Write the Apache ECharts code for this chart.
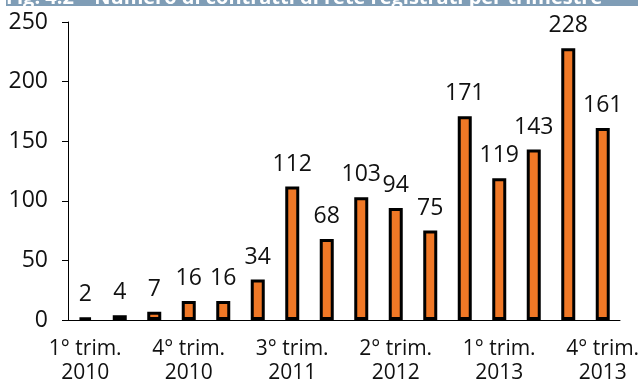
<!DOCTYPE html>
<html>
<head>
<meta charset="utf-8">
<script src="https://cdn.jsdelivr.net/npm/echarts@6/dist/echarts.min.js"></script>
<style>
  html, body { margin: 0; padding: 0; background: #fff; }
  #chart { width: 638px; height: 380px; }
</style>
</head>
<body>
<div id="chart"></div>
<script>
// trimestri 2010-2013
var categorie = [
	'1° trim.\n2010', '2° trim.\n2010', '3° trim.\n2010', '4° trim.\n2010',
	'1° trim.\n2011', '2° trim.\n2011', '3° trim.\n2011', '4° trim.\n2011',
	'1° trim.\n2012', '2° trim.\n2012', '3° trim.\n2012', '4° trim.\n2012',
	'1° trim.\n2013', '2° trim.\n2013', '3° trim.\n2013', '4° trim.\n2013'
];
// numero di contratti di rete
var contratti = [2, 4, 7, 16, 16, 34, 112, 68, 103, 94, 75, 171, 119, 143, 228, 161];
var titolo = 'Fig. 4.2 – Numero di contratti di rete registrati per trimestre';

var chart = echarts.init(document.getElementById('chart'));
var font = '"Open Sans", "Noto Sans", sans-serif';

option = {
	animation: false,
	textStyle: { fontFamily: font },
	graphic: [
		{ type: 'rect', left: 6, top: 0, shape: { width: 632, height: 6 }, style: { fill: '#7f9db6' } },
		{
			type: 'text', x: 6, y: -12,
			style: { text: titolo, fill: '#fff', font: 'bold 20px ' + font, textVerticalAlign: 'top' }
		}
	],
	grid: { left: 68, right: 18, top: 22, bottom: 60, containLabel: false, outerBoundsMode: 'none' },
	xAxis: {
		type: 'category',
		data: categorie,
		axisLine: { lineStyle: { color: '#000', width: 1 } },
		axisTick: { interval: 0, length: 6, lineStyle: { color: '#000' } },
		axisLabel: { interval: 2, color: '#111', fontSize: 21, lineHeight: 24, margin: 17, fontFamily: font }
	},
	yAxis: {
		type: 'value',
		min: 0, max: 250, interval: 50,
		splitLine: { show: false },
		axisLine: { show: true, lineStyle: { color: '#000', width: 1 } },
		axisTick: { show: true, length: 6, lineStyle: { color: '#000' } },
		axisLabel: { color: '#111', fontSize: 23, margin: 20, fontFamily: font }
	},
	series: [{
		type: 'bar',
		data: contratti,
		barWidth: 14,
		itemStyle: { color: '#f07826', borderColor: '#000', borderWidth: 3 },
		label: { show: true, position: 'top', distance: 11, color: '#111', fontSize: 23, fontFamily: font }
	}]
};

chart.setOption(option);
</script>
</body>
</html>
